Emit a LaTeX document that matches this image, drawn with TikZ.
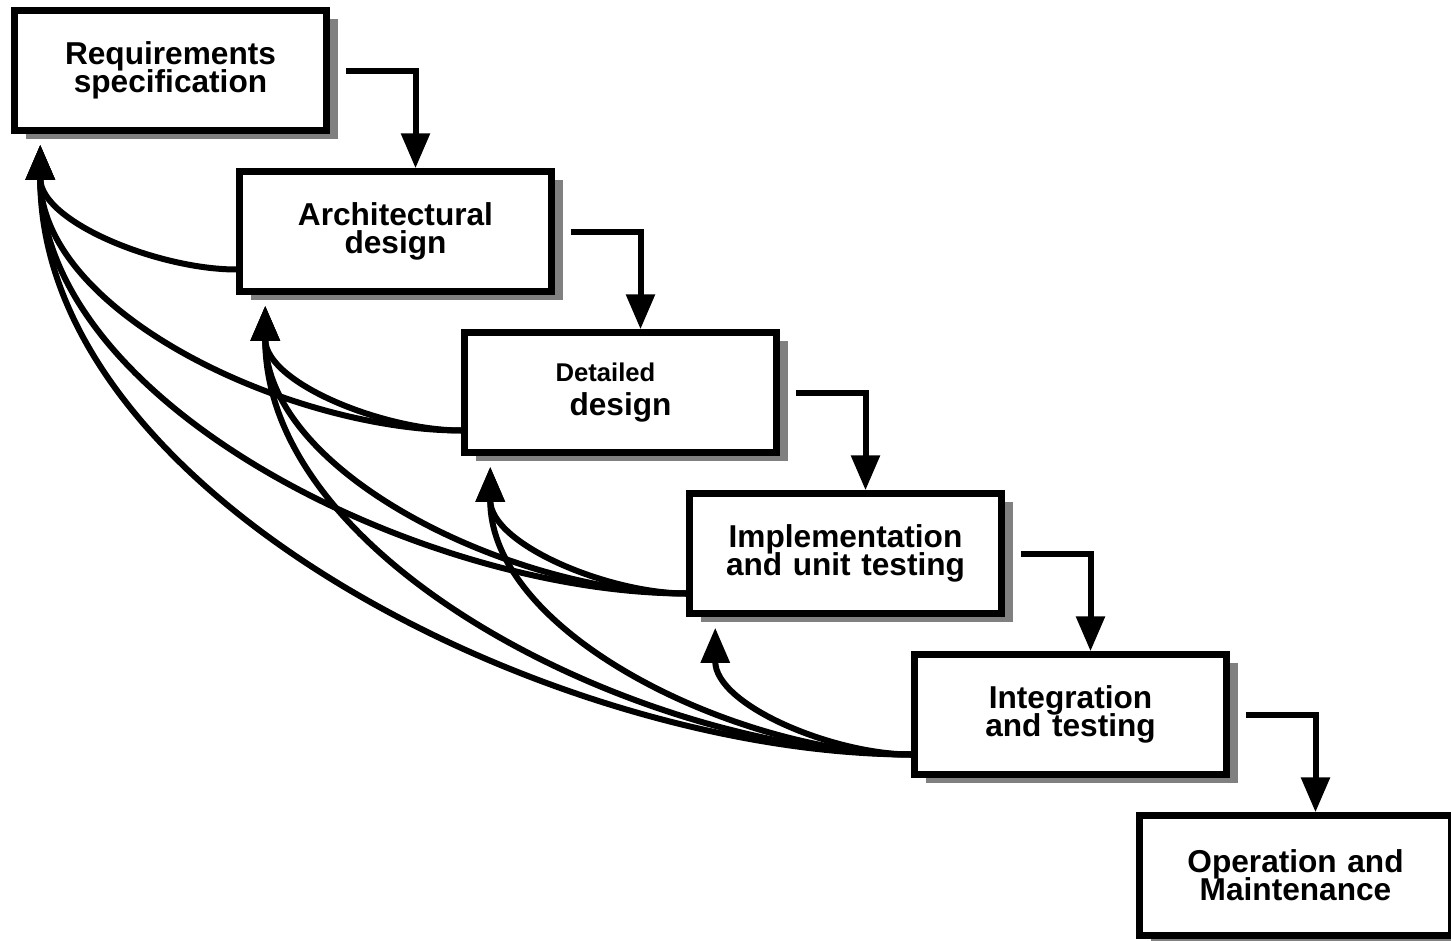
\documentclass[tikz,border=0pt]{standalone}
\usepackage{fontspec}
\setmainfont{Liberation Sans}
\usepackage{tikz}
\usetikzlibrary{shapes,shadows,arrows.meta,positioning}
\tikzstyle{phase} = [rectangle, draw, line width=0.065cm, fill=white, minimum width=3.12cm, minimum height=1.2cm, text width=3cm, text centered, inner sep=0pt, font=\bfseries\fontsize{9}{8}\selectfont\setlength{\lineskiplimit}{-1cm}, drop shadow={shadow xshift=0.11cm, shadow yshift=-0.08cm, fill=black!50, opacity=1}]
\tikzstyle{line} = [draw, line width=0.06cm, -{Triangle[length=0.35cm, width=0.28cm]}]
\tikzstyle{back} = [line, out=180, in=-90, looseness=0.85]

\begin{document}
\begin{tikzpicture}
		\useasboundingbox (0,0) rectangle (14.51,-9.41);
		\node [phase] (req) at (1.705,-0.705) {Requirements\\specification};
		\node [phase, right of=req, node distance=2.25cm, yshift=-1.61cm] (arch) {Architectural\\design};
		\node [phase, right of=arch, node distance=2.25cm, yshift=-1.61cm] (det) {{\fontsize{7.3}{8}\selectfont Detailed}\hspace{0.3cm}\mbox{}\\[0.05cm]design};
		\node [phase, right of=det, node distance=2.25cm, yshift=-1.61cm] (impl) {Implementation\\and unit testing};
		\node [phase, right of=impl, node distance=2.25cm, yshift=-1.61cm] (integ) {Integration\\and testing};
		\node [phase, right of=integ, node distance=2.25cm, yshift=-1.61cm] (op) {Operation and\\Maintenance};
		
		\path [line] ([xshift=0.16cm]req.east) -| ([xshift=0.2cm]arch.north);
		\path [line] ([xshift=0.16cm]arch.east) -| ([xshift=0.2cm]det.north);
		\path [line] ([xshift=0.16cm]det.east) -| ([xshift=0.2cm]impl.north);
		\path [line] ([xshift=0.16cm]impl.east) -| ([xshift=0.2cm]integ.north);
		\path [line] ([xshift=0.16cm]integ.east) -| ([xshift=0.2cm]op.north);
		
		\path [back] ([yshift=-0.38cm]arch.west) to ([xshift=0.29cm, yshift=-0.11cm]req.south west);
		
		\path [back] ([yshift=-0.38cm]det.west) to ([xshift=0.29cm, yshift=-0.11cm]req.south west);
		\path [back] ([yshift=-0.38cm]det.west) to ([xshift=0.29cm, yshift=-0.11cm]arch.south west);
		
		\path [back] ([yshift=-0.4cm]impl.west) to ([xshift=0.29cm, yshift=-0.11cm]req.south west);
		\path [back] ([yshift=-0.4cm]impl.west) to ([xshift=0.29cm, yshift=-0.11cm]arch.south west);
		\path [back] ([yshift=-0.4cm]impl.west) to ([xshift=0.29cm, yshift=-0.11cm]det.south west);
		
		\path [back] ([yshift=-0.4cm]integ.west) to ([xshift=0.29cm, yshift=-0.11cm]req.south west);
		\path [back] ([yshift=-0.4cm]integ.west) to ([xshift=0.29cm, yshift=-0.11cm]arch.south west);
		\path [back] ([yshift=-0.4cm]integ.west) to ([xshift=0.29cm, yshift=-0.11cm]det.south west);
		\path [back] ([yshift=-0.4cm]integ.west) to ([xshift=0.29cm, yshift=-0.11cm]impl.south west);
\end{tikzpicture}
\end{document}
